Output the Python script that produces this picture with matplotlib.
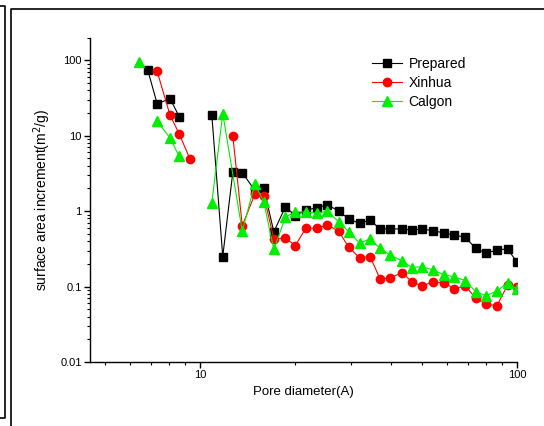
import matplotlib
matplotlib.use("Agg")
import matplotlib.pyplot as plt
from matplotlib.lines import Line2D
import numpy as np

plt.rcParams['font.family'] = ['Liberation Sans', 'DejaVu Sans']

nan = np.nan

# pore diameter grid (A) shared by Prepared and Xinhua
pore_d = [6.44, 6.84, 7.33, 8.05, 8.6, 9.3, 10.9, 11.8, 12.7, 13.6,
          14.9, 15.9, 17.1, 18.6, 20.0, 21.6, 23.4, 25.2, 27.4, 29.5,
          31.9, 34.4, 37.0, 39.9, 43.3, 46.7, 50.2, 54.3, 58.7, 63.5,
          68.7, 74.1, 80.0, 86.5, 93.4, 100]

prepared = [nan, 75, 26.4, 31, 17.9, nan, 18.8, 0.25, 3.33, 3.23,
            1.88, 2.02, 0.53, 1.14, 0.87, 1.04, 1.1, 1.22, 1.0, 0.78,
            0.69, 0.76, 0.58, 0.58, 0.58, 0.56, 0.58, 0.55, 0.515, 0.48,
            0.45, 0.32, 0.277, 0.306, 0.315, 0.21]

xinhua = [nan, nan, 71, 18.6, 10.6, 4.9, nan, nan, 9.8, 0.64,
          1.68, 1.6, 0.43, 0.44, 0.35, 0.6, 0.59, 0.66, 0.54, 0.33,
          0.24, 0.25, 0.126, 0.131, 0.152, 0.116, 0.101, 0.116, 0.112, 0.094,
          0.102, 0.07, 0.058, 0.056, 0.105, 0.1]

# Calgon has no point at 12.7
calgon_d = [6.44, 6.84, 7.33, 8.05, 8.6, 9.3, 10.9, 11.8, 13.6,
            14.9, 15.9, 17.1, 18.6, 20.0, 21.6, 23.4, 25.2, 27.4, 29.5,
            31.9, 34.4, 37.0, 39.9, 43.3, 46.7, 50.2, 54.3, 58.7, 63.5,
            68.7, 74.1, 80.0, 86.5, 93.4, 100]

calgon = [94, nan, 15.5, 9.3, 5.3, nan, 1.28, 19.6, 0.54,
          2.3, 1.32, 0.31, 0.83, 0.98, 0.97, 0.94, 1.0, 0.72, 0.53,
          0.376, 0.43, 0.32, 0.26, 0.22, 0.178, 0.184, 0.166, 0.144, 0.134,
          0.12, 0.085, 0.076, 0.087, 0.113, 0.092]

W, H = 544, 426
fig = plt.figure(figsize=(W / 100, H / 100), dpi=100)
ax = fig.add_axes([90 / W, 1 - 362 / H, (517 - 90) / W, (362 - 37.5) / H])

ax.plot(pore_d, prepared, color='black', marker='s', ms=5.5, lw=0.8, label='Prepared')
ax.plot(pore_d, xinhua, color='#ff0000', marker='o', ms=6, lw=0.8, label='Xinhua')
ax.plot(calgon_d, calgon, color='#00ee00', marker='^', ms=6.5, lw=0.8, label='Calgon')

ax.set_xscale('log')
ax.set_yscale('log')
ax.set_xlim(4.5, 100)
ax.set_ylim(0.01, 200)
ax.set_xticks([10, 100])
ax.set_xticklabels(['10', '100'])
ax.set_yticks([0.01, 0.1, 1, 10, 100])
ax.set_yticklabels(['0.01', '0.1', '1', '10', '100'])

for s in ['top', 'right']:
    ax.spines[s].set_visible(False)
for s in ['left', 'bottom']:
    ax.spines[s].set_linewidth(1.0)
ax.tick_params(which='major', direction='out', length=4, width=1, labelsize=8, pad=2)
ax.tick_params(which='minor', direction='out', length=2.5, width=0.8)

ax.set_xlabel('Pore diameter(A)', fontsize=9.5, labelpad=4)
ax.set_ylabel('surface area increment(m$^2$/g)', fontsize=10, labelpad=5)

ax.legend(loc='upper left', bbox_to_anchor=(0.66, 0.94), frameon=False,
          fontsize=10, borderpad=0, borderaxespad=0, labelspacing=0.37,
          handlelength=2.2, handletextpad=0.45)

# page frames around the figure
def fline(xs, ys):
    fig.add_artist(Line2D([x / W for x in xs], [1 - y / H for y in ys],
                          color='black', lw=1.2, transform=fig.transFigure))

fline([0, 5, 5, 0], [6, 6, 418, 418])
fline([544, 11, 11], [9, 9, 426])

fig.savefig('out.png', dpi=100)
